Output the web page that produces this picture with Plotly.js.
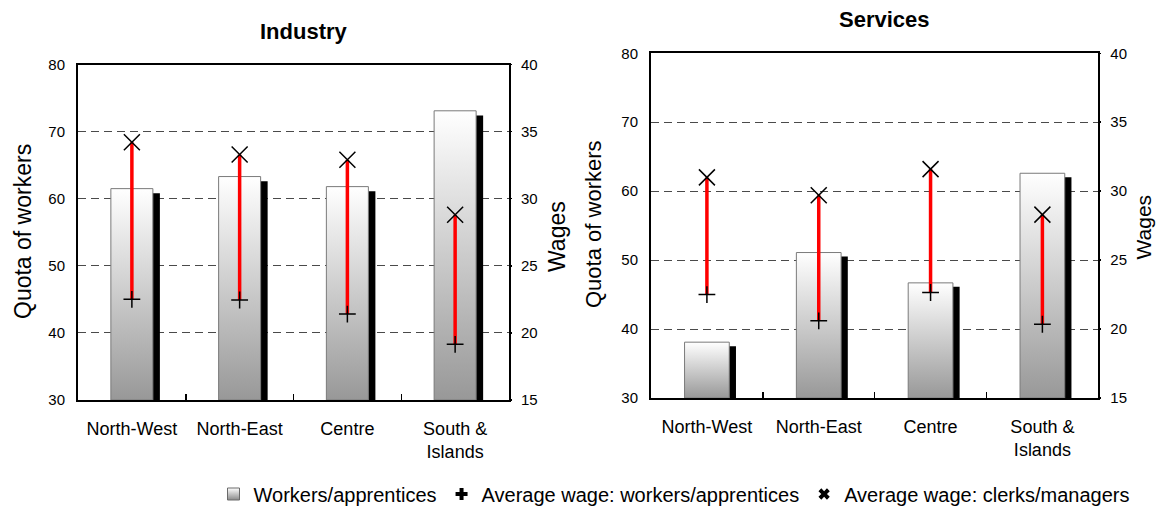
<!DOCTYPE html>
<html>
<head>
<meta charset="utf-8">
<script src="https://cdn.plot.ly/plotly-3.0.1.min.js"></script>
<style>
  html, body { margin: 0; padding: 0; background: #ffffff; }
  #chart { width: 1157px; height: 506px; }
</style>
</head>
<body>
<div id="chart"></div>
<script>
// Regions on the category axis of both panels
const regions = ['North-West', 'North-East', 'Centre', 'South &<br>Islands'];

// Industry panel
const industryQuota = [61.5, 63.3, 61.8, 73.1];          // quota of workers (%)
const industryWageWorkers = [22.5, 22.45, 21.4, 19.15];   // average wage, workers/apprentices
const industryWageClerks = [34.2, 33.3, 32.9, 28.8];      // average wage, clerks/managers

// Services panel
const servicesQuota = [38.1, 51.1, 46.7, 62.6];
const servicesWageWorkers = [22.5, 20.6, 22.65, 20.35];
const servicesWageClerks = [31.0, 29.7, 31.6, 28.3];

// Axis scales
const quotaRange = [30, 80];
const quotaTicks = [30, 40, 50, 60, 70, 80];
const wageRange = [15, 40];
const wageTicks = [15, 20, 25, 30, 35, 40];

// Legend names
const legendNames = ['Workers/apprentices', 'Average wage: workers/apprentices', 'Average wage: clerks/managers'];

const W = 1157, H = 506;
const FONT = 'Liberation Sans, Arial, Helvetica, sans-serif';

// Frame of each panel in page pixels, plus bar and shadow geometry
const panels = [
  { title: 'Industry', quota: industryQuota, workers: industryWageWorkers, clerks: industryWageClerks,
    box: { l: 78, r: 509, t: 64.5, b: 400 }, half: 0.195, shadowPx: [7, 4.6],
    xa: 'x', ya: 'y', wa: 'y2', xKey: 'xaxis', yKey: 'yaxis', wKey: 'yaxis2',
    titlePos: [303.5, 31.7], titleSize: 22,
    quotaTitle: { x: 23, y: 232, size: 23 }, wageTitle: { x: 557, y: 237, size: 23 } },
  { title: 'Services', quota: servicesQuota, workers: servicesWageWorkers, clerks: servicesWageClerks,
    box: { l: 651, r: 1098.3, t: 53.3, b: 398 }, half: 0.2, shadowPx: [6.7, 4],
    xa: 'x3', ya: 'y3', wa: 'y4', xKey: 'xaxis3', yKey: 'yaxis3', wKey: 'yaxis4',
    titlePos: [884, 20], titleSize: 22,
    quotaTitle: { x: 593, y: 224, size: 22 }, wageTitle: { x: 1142.5, y: 227, size: 21 } }
];

const traces = [];
const layout = {
  width: W, height: H,
  margin: { l: 0, r: 0, t: 0, b: 0, autoexpand: false },
  paper_bgcolor: '#ffffff', plot_bgcolor: '#ffffff',
  font: { family: FONT, color: '#000000' },
  showlegend: true,
  legend: {
    orientation: 'h', x: 674 / W, xanchor: 'center', y: 1 - 494 / H, yanchor: 'middle',
    font: { family: FONT, size: 20, color: '#000000' }, bgcolor: 'rgba(0,0,0,0)',
    itemclick: false, itemdoubleclick: false
  },
  annotations: []
};

const nCat = regions.length;
const catIdx = regions.map((_, i) => i);

panels.forEach(p => {
  const pxW = p.box.r - p.box.l, pxH = p.box.b - p.box.t;
  const unitX = pxW / nCat;                                   // pixels per category
  const unitY = pxH / (quotaRange[1] - quotaRange[0]);        // pixels per quota point
  const dx = p.shadowPx[0] / unitX, dy = p.shadowPx[1] / unitY;
  const base = quotaRange[0];

  // drop shadows behind the bars
  p.quota.forEach((v, i) => {
    const x0 = i - p.half + dx, x1 = i + p.half + dx;
    traces.push({
      type: 'scatter', mode: 'lines', xaxis: p.xa, yaxis: p.ya,
      x: [x0, x1, x1, x0, x0], y: [base - 1, base - 1, v - dy, v - dy, base - 1],
      fill: 'toself', fillcolor: '#000000', line: { width: 0, color: '#000000' },
      showlegend: false, hoverinfo: 'skip'
    });
  });

  // bars with a white-to-grey vertical gradient
  p.quota.forEach((v, i) => {
    const x0 = i - p.half, x1 = i + p.half;
    traces.push({
      type: 'scatter', mode: 'lines', xaxis: p.xa, yaxis: p.ya,
      x: [x0, x1, x1, x0, x0], y: [base, base, v, v, base],
      fill: 'toself',
      fillgradient: { type: 'vertical', colorscale: [[0, '#989898'], [1, '#ffffff']], start: base, stop: v },
      line: { width: 1, color: '#7a7a7a' },
      showlegend: false, hoverinfo: 'skip'
    });
  });

  // workers' wage with the red span up to the clerks' wage
  traces.push({
    type: 'scatter', mode: 'markers', xaxis: p.xa, yaxis: p.wa,
    x: catIdx, y: p.workers,
    marker: { symbol: 'cross-thin', size: 12, color: '#000000', line: { color: '#000000', width: 1.5 } },
    error_y: {
      type: 'data', symmetric: false,
      array: p.clerks.map((c, i) => c - p.workers[i]),
      arrayminus: p.clerks.map(() => 0),
      color: '#ff0000', thickness: 3.5, width: 0
    },
    showlegend: false, hoverinfo: 'skip'
  });

  // clerks' wage
  traces.push({
    type: 'scatter', mode: 'markers', xaxis: p.xa, yaxis: p.wa,
    x: catIdx, y: p.clerks,
    marker: { symbol: 'x-thin', size: 16, color: '#000000', line: { color: '#000000', width: 1.5 } },
    showlegend: false, hoverinfo: 'skip'
  });

  layout[p.xKey] = {
    domain: [p.box.l / W, p.box.r / W], anchor: p.ya,
    range: [-0.5, nCat - 0.5], tickmode: 'array', tickvals: catIdx, ticktext: regions,
    ticks: '', tickfont: { family: FONT, size: 18 }, ticklabelstandoff: 11,
    minor: { tickmode: 'array', tickvals: [0.5, 1.5, 2.5], ticks: 'inside', ticklen: 6, tickwidth: 1.5, tickcolor: '#000000', showgrid: false },
    showgrid: false, zeroline: false,
    showline: true, mirror: true, linecolor: '#000000', linewidth: 2, fixedrange: true
  };
  layout[p.yKey] = {
    domain: [1 - p.box.b / H, 1 - p.box.t / H], anchor: p.xa,
    range: quotaRange, tickmode: 'array', tickvals: quotaTicks,
    ticks: '', tickfont: { family: FONT, size: 15 }, ticklabelstandoff: 8,
    showgrid: true, gridcolor: '#4a4a4a', gridwidth: 1, griddash: '8px,5px',
    zeroline: false, showline: true, mirror: true, linecolor: '#000000', linewidth: 2, fixedrange: true
  };
  layout[p.wKey] = {
    overlaying: p.ya, side: 'right', anchor: p.xa,
    range: wageRange, tickmode: 'array', tickvals: wageTicks,
    ticks: 'outside', ticklen: 2, tickwidth: 1.5, tickcolor: '#000000',
    tickfont: { family: FONT, size: 15 }, ticklabelstandoff: 6,
    showgrid: false, zeroline: false, showline: false, fixedrange: true
  };

  layout.annotations.push(
    { text: '<b>' + p.title + '</b>', xref: 'paper', yref: 'paper',
      x: p.titlePos[0] / W, y: 1 - p.titlePos[1] / H, xanchor: 'center', yanchor: 'middle',
      showarrow: false, font: { family: FONT, size: p.titleSize, color: '#000000' } },
    { text: 'Quota of workers', xref: 'paper', yref: 'paper', textangle: -90,
      x: p.quotaTitle.x / W, y: 1 - p.quotaTitle.y / H, xanchor: 'center', yanchor: 'middle',
      showarrow: false, font: { family: FONT, size: p.quotaTitle.size, color: '#000000' } },
    { text: 'Wages', xref: 'paper', yref: 'paper', textangle: -90,
      x: p.wageTitle.x / W, y: 1 - p.wageTitle.y / H, xanchor: 'center', yanchor: 'middle',
      showarrow: false, font: { family: FONT, size: p.wageTitle.size, color: '#000000' } }
  );
});

// legend entries
traces.push(
  { type: 'scatter', mode: 'markers', x: [null], y: [null], name: legendNames[0],
    marker: { symbol: 'square', size: 12, color: '#ffffff', gradient: { type: 'vertical', color: '#8a8a8a' }, line: { color: '#6a6a6a', width: 1 } } },
  { type: 'scatter', mode: 'markers', x: [null], y: [null], name: legendNames[1],
    marker: { symbol: 'cross', size: 10, color: '#000000', line: { width: 0 } } },
  { type: 'scatter', mode: 'markers', x: [null], y: [null], name: legendNames[2],
    marker: { symbol: 'x', size: 10, color: '#000000', line: { width: 0 } } }
);

Plotly.newPlot('chart', traces, layout, { staticPlot: true, displayModeBar: false });
</script>
</body>
</html>
